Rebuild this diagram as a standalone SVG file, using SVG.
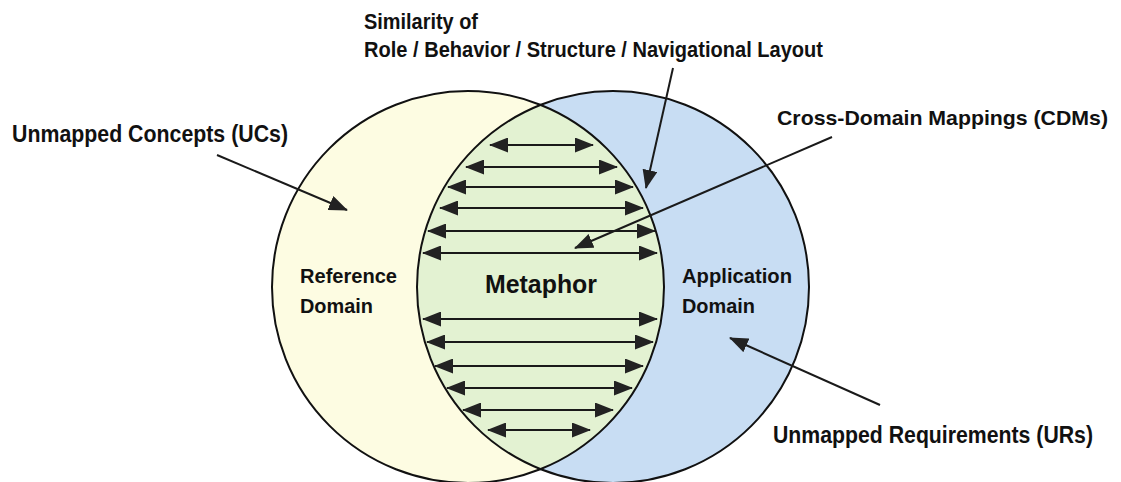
<svg xmlns="http://www.w3.org/2000/svg" width="1121" height="482" viewBox="0 0 1121 482">
  <style>
    .lbl { font-family: "Liberation Sans", Arial, sans-serif; font-weight: bold; font-size: 23px; fill: #111; }
    .top { font-size: 22px; }
    .dom { font-size: 21px; }
    .cdm { font-size: 21px; }
    .big { font-size: 25px; }
    .edge { stroke: #111; stroke-width: 2; fill: none; }
    .map { stroke: #1a1a1a; stroke-width: 2; fill: none; marker-start: url(#head2); marker-end: url(#head); }
    .ptr { stroke: #1a1a1a; stroke-width: 2; fill: none; marker-end: url(#head); }
  </style>
  <defs>
    <marker id="head" viewBox="0 0 19 15" markerWidth="19" markerHeight="15" refX="18" refY="7.5" orient="auto" markerUnits="userSpaceOnUse">
      <path d="M0,0 L19,7.5 L0,15 z" fill="#222"/>
    </marker>
    <marker id="head2" viewBox="0 0 19 15" markerWidth="19" markerHeight="15" refX="18" refY="7.5" orient="auto-start-reverse" markerUnits="userSpaceOnUse">
      <path d="M0,0 L19,7.5 L0,15 z" fill="#222"/>
    </marker>
  </defs>

  <rect width="1121" height="482" fill="#ffffff"/>

  <!-- Reference domain circle -->
  <g id="reference-domain">
    <circle cx="468" cy="287" r="196" fill="#fdfce2"/>
  </g>
  <!-- Application domain circle -->
  <g id="application-domain">
    <circle cx="613" cy="287" r="196" fill="#c8ddf3"/>
  </g>
  <!-- Overlap: the metaphor -->
  <g id="metaphor">
    <path d="M540.5,104.9 A196,196 0 0 1 540.5,469.1 A196,196 0 0 1 540.5,104.9 z" fill="#e3f2d2"/>
  </g>
  <g id="outlines">
    <circle class="edge" cx="468" cy="287" r="196"/>
    <circle class="edge" cx="613" cy="287" r="196"/>
  </g>

  <!-- Cross-domain mapping arrows -->
  <g id="connectors">
    <line class="map" x1="490" y1="145" x2="593" y2="145"/>
    <line class="map" x1="466" y1="167" x2="617" y2="167"/>
    <line class="map" x1="448" y1="187" x2="633" y2="187"/>
    <line class="map" x1="440" y1="208" x2="643" y2="208"/>
    <line class="map" x1="428" y1="231" x2="655" y2="231"/>
    <line class="map" x1="423" y1="253" x2="657" y2="253"/>
    <line class="map" x1="423" y1="319" x2="657" y2="319"/>
    <line class="map" x1="427" y1="342" x2="653" y2="342"/>
    <line class="map" x1="435" y1="366" x2="643" y2="366"/>
    <line class="map" x1="447" y1="388" x2="632" y2="388"/>
    <line class="map" x1="463" y1="410" x2="613" y2="410"/>
    <line class="map" x1="488" y1="430" x2="590" y2="430"/>

    <!-- Label pointers -->
    <line class="ptr" x1="673" y1="68" x2="646" y2="188"/>
    <line class="ptr" x1="832" y1="137" x2="575" y2="248"/>
    <line class="ptr" x1="217" y1="155" x2="347" y2="210"/>
    <line class="ptr" x1="880" y1="405" x2="730" y2="338"/>
  </g>

  <!-- Labels -->
  <g id="label-similarity">
    <text class="lbl top" x="364" y="29" textLength="114" lengthAdjust="spacingAndGlyphs">Similarity of</text>
    <text class="lbl top" x="364" y="57" textLength="459" lengthAdjust="spacingAndGlyphs">Role / Behavior / Structure / Navigational Layout</text>
  </g>
  <g id="label-ucs">
    <text class="lbl" x="12" y="142" textLength="276" lengthAdjust="spacingAndGlyphs">Unmapped Concepts (UCs)</text>
  </g>
  <g id="label-cdms">
    <text class="lbl cdm" x="777" y="125" textLength="331" lengthAdjust="spacingAndGlyphs">Cross-Domain Mappings (CDMs)</text>
  </g>
  <g id="label-urs">
    <text class="lbl" x="773" y="443" textLength="320" lengthAdjust="spacingAndGlyphs">Unmapped Requirements (URs)</text>
  </g>
  <g id="label-reference">
    <text class="lbl dom" x="300" y="283" textLength="97" lengthAdjust="spacingAndGlyphs">Reference</text>
    <text class="lbl dom" x="300" y="313" textLength="73" lengthAdjust="spacingAndGlyphs">Domain</text>
  </g>
  <g id="label-application">
    <text class="lbl dom" x="682" y="283" textLength="110" lengthAdjust="spacingAndGlyphs">Application</text>
    <text class="lbl dom" x="682" y="313" textLength="73" lengthAdjust="spacingAndGlyphs">Domain</text>
  </g>
  <g id="label-metaphor">
    <text class="lbl big" x="485" y="293" textLength="112" lengthAdjust="spacingAndGlyphs">Metaphor</text>
  </g>
</svg>
